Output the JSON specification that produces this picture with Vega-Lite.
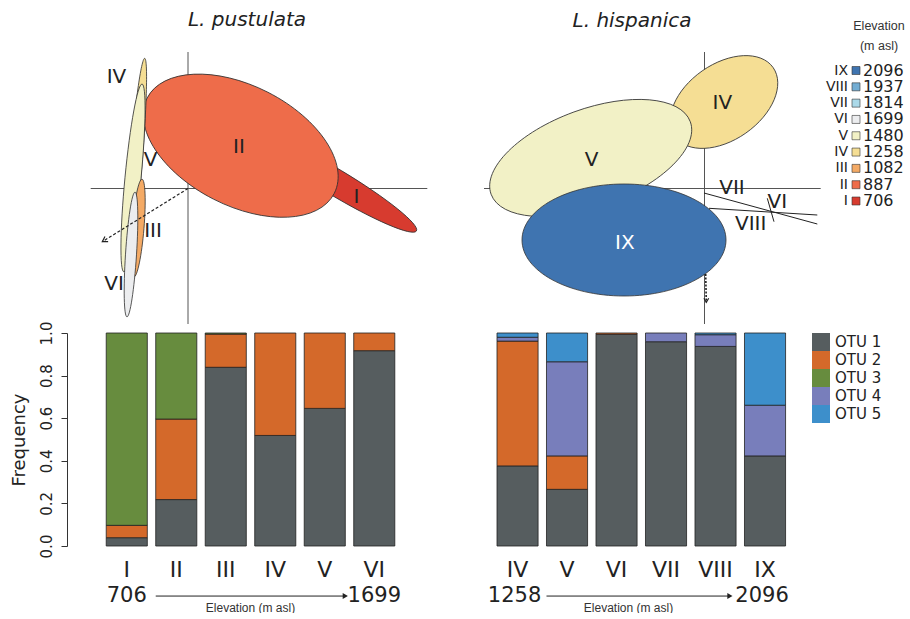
{
  "$schema": "https://vega.github.io/schema/vega-lite/v6.json",
  "background": "white",
  "padding": {"left": 9, "top": 10, "right": 0, "bottom": 0},
  "autosize": {"type": "pad"},
  "config": {"view": {"stroke": null}, "font": "DejaVu Sans"},
  "datasets": {
    "ellL": [
      {"id": "L-I", "site": "I", "x": 1.47, "y": 0.065, "semi": 0.95, "angle": 31},
      {"id": "L-II", "site": "II", "x": 0.527, "y": 0.428, "semi": 1.05, "angle": 27},
      {"id": "L-IV", "site": "IV", "x": -0.52, "y": 0.245, "semi": 1.06, "angle": 94.7},
      {"id": "L-V", "site": "V", "x": -0.55, "y": 0.105, "semi": 0.944, "angle": 95.5},
      {"id": "L-III", "site": "III", "x": -0.5, "y": -0.395, "semi": 0.49, "angle": 94.7},
      {"id": "L-VI", "site": "VI", "x": -0.57, "y": -0.66, "semi": 0.625, "angle": 93.7}
    ],
    "ellR": [
      {"id": "R-IV", "site": "IV", "x": 0.195, "y": 0.865, "semi": 0.6, "angle": 325},
      {"id": "R-V", "site": "V", "x": -1.138, "y": 0.305, "semi": 1.06, "angle": 340},
      {"id": "R-IX", "site": "IX", "x": -0.805, "y": -0.515, "semi": 1.02, "angle": 0}
    ],
    "crossL": [{"x": 0, "x2": 0, "y": 1.365, "y2": -1.355}, {"x": -0.973, "x2": 2.393, "y": 0, "y2": 0}],
    "crossR": [{"x": 0, "x2": 0, "y": 1.365, "y2": -1.355}, {"x": -2.205, "x2": 1.162, "y": 0, "y2": 0}],
    "arrowsL": [{"x": 0, "y": 0, "x2": -0.857, "y2": -0.532}],
    "arrowsR": [{"x": 0.012, "y": -0.855, "x2": 0.018, "y2": -1.138}],
    "linesR": [
      {"site": "VII", "x": -0.005, "y": -0.045, "x2": 1.128, "y2": -0.355},
      {"site": "VIII", "x": 0.045, "y": -0.198, "x2": 1.128, "y2": -0.265},
      {"site": "VI", "x": 0.628, "y": -0.098, "x2": 0.695, "y2": -0.332}
    ],
    "labelsL": [
      {"label": "IV", "x": -0.715, "y": 1.12},
      {"label": "V", "x": -0.373, "y": 0.29},
      {"label": "III", "x": -0.35, "y": -0.42},
      {"label": "VI", "x": -0.74, "y": -0.955},
      {"label": "II", "x": 0.51, "y": 0.412},
      {"label": "I", "x": 1.685, "y": -0.08}
    ],
    "labelsR": [
      {"label": "IV", "x": 0.178, "y": 0.853},
      {"label": "V", "x": -1.13, "y": 0.29},
      {"label": "IX", "x": -0.797, "y": -0.547},
      {"label": "VII", "x": 0.275, "y": 0.002},
      {"label": "VI", "x": 0.728, "y": -0.13},
      {"label": "VIII", "x": 0.462, "y": -0.355}
    ],
    "elev": [
      {"site": "IX", "elev": 2096}, {"site": "VIII", "elev": 1937}, {"site": "VII", "elev": 1814},
      {"site": "VI", "elev": 1699}, {"site": "V", "elev": 1480}, {"site": "IV", "elev": 1258},
      {"site": "III", "elev": 1082}, {"site": "II", "elev": 887}, {"site": "I", "elev": 706}
    ],
    "barsL": [
      {"site": "I", "otu": "OTU 1", "freq": 0.039}, {"site": "I", "otu": "OTU 2", "freq": 0.058}, {"site": "I", "otu": "OTU 3", "freq": 0.903},
      {"site": "II", "otu": "OTU 1", "freq": 0.218}, {"site": "II", "otu": "OTU 2", "freq": 0.378}, {"site": "II", "otu": "OTU 3", "freq": 0.404},
      {"site": "III", "otu": "OTU 1", "freq": 0.839}, {"site": "III", "otu": "OTU 2", "freq": 0.156}, {"site": "III", "otu": "OTU 3", "freq": 0.005},
      {"site": "IV", "otu": "OTU 1", "freq": 0.519}, {"site": "IV", "otu": "OTU 2", "freq": 0.481},
      {"site": "V", "otu": "OTU 1", "freq": 0.646}, {"site": "V", "otu": "OTU 2", "freq": 0.354},
      {"site": "VI", "otu": "OTU 1", "freq": 0.917}, {"site": "VI", "otu": "OTU 2", "freq": 0.083}
    ],
    "barsR": [
      {"site": "IV", "otu": "OTU 1", "freq": 0.376}, {"site": "IV", "otu": "OTU 2", "freq": 0.586}, {"site": "IV", "otu": "OTU 4", "freq": 0.018}, {"site": "IV", "otu": "OTU 5", "freq": 0.02},
      {"site": "V", "otu": "OTU 1", "freq": 0.266}, {"site": "V", "otu": "OTU 2", "freq": 0.157}, {"site": "V", "otu": "OTU 4", "freq": 0.442}, {"site": "V", "otu": "OTU 5", "freq": 0.135},
      {"site": "VI", "otu": "OTU 1", "freq": 0.994}, {"site": "VI", "otu": "OTU 2", "freq": 0.006},
      {"site": "VII", "otu": "OTU 1", "freq": 0.959}, {"site": "VII", "otu": "OTU 4", "freq": 0.041},
      {"site": "VIII", "otu": "OTU 1", "freq": 0.937}, {"site": "VIII", "otu": "OTU 4", "freq": 0.055}, {"site": "VIII", "otu": "OTU 5", "freq": 0.008},
      {"site": "IX", "otu": "OTU 1", "freq": 0.423}, {"site": "IX", "otu": "OTU 4", "freq": 0.238}, {"site": "IX", "otu": "OTU 5", "freq": 0.339}
    ],
    "endsL": [{"site": "I", "label": "706"}, {"site": "VI", "label": "1699"}],
    "endsR": [{"site": "IV", "label": "1258"}, {"site": "IX", "label": "2096"}],
    "arrowBL": [{"from": "II", "to": "V"}],
    "arrowBR": [{"from": "V", "to": "VIII"}]
  },
  "columns": 2,
  "spacing": {"row": -4, "column": 50},
  "concat": [
    {
      "width": 345, "height": 275,
      "title": {"text": "L. pustulata", "frame": "group", "fontStyle": "italic", "fontSize": 20, "fontWeight": "normal", "font": "DejaVu Sans", "color": "#222", "offset": 19, "dx": -9.5},
      "layer": [
        {
          "data": {"name": "crossL"},
          "mark": {"type": "rule", "color": "#555", "strokeWidth": 1},
          "encoding": {
            "x": {"field": "x", "type": "quantitative", "scale": {"domain": [-1.04, 2.41], "nice": false, "zero": false}, "axis": null},
            "x2": {"field": "x2"},
            "y": {"field": "y", "type": "quantitative", "scale": {"domain": [-1.355, 1.395], "nice": false, "zero": false}, "axis": null},
            "y2": {"field": "y2"}
          }
        },
        {
          "data": {"name": "ellL"},
          "mark": {"type": "point", "filled": true, "opacity": 1, "stroke": "#333", "strokeWidth": 0.8},
          "encoding": {
            "x": {"field": "x", "type": "quantitative", "scale": {"domain": [-1.04, 2.41], "nice": false, "zero": false}, "axis": null},
            "y": {"field": "y", "type": "quantitative", "scale": {"domain": [-1.355, 1.395], "nice": false, "zero": false}, "axis": null},
            "fill": {"field": "site", "type": "nominal", "legend": null, "scale": {"domain": ["I", "II", "III", "IV", "V", "VI", "VII", "VIII", "IX"], "range": ["#D73B2F", "#EE6C4A", "#F4AA65", "#F5DE94", "#F2F1C6", "#ECEDEF", "#ABD9E9", "#73ADD3", "#3F74B0"]}},
            "shape": {"field": "id", "type": "nominal", "legend": null, "scale": {
              "domain": ["L-I", "L-II", "L-III", "L-IV", "L-V", "L-VI", "R-IV", "R-V", "R-IX"],
              "range": [
                "M1,0C1,0.0757 0.5523,0.137 0,0.137C-0.5523,0.137 -1,0.0757 -1,0C-1,-0.0757 -0.5523,-0.137 0,-0.137C0.5523,-0.137 1,-0.0757 1,0Z",
                "M1,0C1,0.3154 0.5523,0.571 0,0.571C-0.5523,0.571 -1,0.3154 -1,0C-1,-0.3154 -0.5523,-0.571 0,-0.571C0.5523,-0.571 1,-0.3154 1,0Z",
                "M1,0C1,0.0674 0.5523,0.122 0,0.122C-0.5523,0.122 -1,0.0674 -1,0C-1,-0.0674 -0.5523,-0.122 0,-0.122C0.5523,-0.122 1,-0.0674 1,0Z",
                "M1,0C1,0.0315 0.5523,0.057 0,0.057C-0.5523,0.057 -1,0.0315 -1,0C-1,-0.0315 -0.5523,-0.057 0,-0.057C0.5523,-0.057 1,-0.0315 1,0Z",
                "M1,0C1,0.0469 0.5523,0.085 0,0.085C-0.5523,0.085 -1,0.0469 -1,0C-1,-0.0469 -0.5523,-0.085 0,-0.085C0.5523,-0.085 1,-0.0469 1,0Z",
                "M1,0C1,0.0486 0.5523,0.088 0,0.088C-0.5523,0.088 -1,0.0486 -1,0C-1,-0.0486 -0.5523,-0.088 0,-0.088C0.5523,-0.088 1,-0.0486 1,0Z",
                "M1,0C1,0.3496 0.5523,0.633 0,0.633C-0.5523,0.633 -1,0.3496 -1,0C-1,-0.3496 -0.5523,-0.633 0,-0.633C0.5523,-0.633 1,-0.3496 1,0Z",
                "M1,0C1,0.2552 0.5523,0.462 0,0.462C-0.5523,0.462 -1,0.2552 -1,0C-1,-0.2552 -0.5523,-0.462 0,-0.462C0.5523,-0.462 1,-0.2552 1,0Z",
                "M1,0C1,0.3032 0.5523,0.549 0,0.549C-0.5523,0.549 -1,0.3032 -1,0C-1,-0.3032 -0.5523,-0.549 0,-0.549C0.5523,-0.549 1,-0.3032 1,0Z"
              ]}},
            "size": {"field": "semi", "type": "quantitative", "legend": null, "scale": {"type": "pow", "exponent": 2, "domain": [0, 1.2], "range": [0, 57600]}},
            "angle": {"field": "angle", "type": "quantitative", "scale": {"domain": [0, 360], "range": [0, 360]}}
          }
        },
        {
          "data": {"name": "arrowsL"},
          "mark": {"type": "rule", "color": "#222", "strokeWidth": 1.2, "strokeDash": [3, 2]},
          "encoding": {
            "x": {"field": "x", "type": "quantitative", "scale": {"domain": [-1.04, 2.41], "nice": false, "zero": false}, "axis": null},
            "x2": {"field": "x2"},
            "y": {"field": "y", "type": "quantitative", "scale": {"domain": [-1.355, 1.395], "nice": false, "zero": false}, "axis": null},
            "y2": {"field": "y2"}
          }
        },
        {
          "data": {"name": "arrowsL"},
          "mark": {"type": "point", "shape": "M-1,-0.6L0,0L-1,0.6", "filled": false, "opacity": 1, "stroke": "#222", "strokeWidth": 1.2, "size": 100, "angle": 148.2},
          "encoding": {
            "x": {"field": "x2", "type": "quantitative", "scale": {"domain": [-1.04, 2.41], "nice": false, "zero": false}, "axis": null},
            "y": {"field": "y2", "type": "quantitative", "scale": {"domain": [-1.355, 1.395], "nice": false, "zero": false}, "axis": null}
          }
        },
        {
          "data": {"name": "labelsL"},
          "mark": {"type": "text", "fontSize": 20, "font": "DejaVu Sans", "baseline": "middle", "align": "center"},
          "encoding": {
            "x": {"field": "x", "type": "quantitative", "scale": {"domain": [-1.04, 2.41], "nice": false, "zero": false}, "axis": null},
            "y": {"field": "y", "type": "quantitative", "scale": {"domain": [-1.355, 1.395], "nice": false, "zero": false}, "axis": null},
            "text": {"field": "label"},
            "color": {"value": "#222"}
          }
        }
      ]
    },
    {
      "width": 430, "height": 275,
      "title": {"text": "L. hispanica", "frame": "group", "fontStyle": "italic", "fontSize": 20, "fontWeight": "normal", "font": "DejaVu Sans", "color": "#222", "offset": 19, "dx": -62, "dy": 30},
      "resolve": {"scale": {"y": "independent"}},
      "layer": [
        {
          "data": {"name": "crossR"},
          "mark": {"type": "rule", "color": "#555", "strokeWidth": 1},
          "encoding": {
            "x": {"field": "x", "type": "quantitative", "scale": {"domain": [-2.255, 2.045], "nice": false, "zero": false}, "axis": null},
            "x2": {"field": "x2"},
            "y": {"field": "y", "type": "quantitative", "scale": {"domain": [-1.355, 1.395], "nice": false, "zero": false}, "axis": null},
            "y2": {"field": "y2"}
          }
        },
        {
          "data": {"name": "ellR"},
          "mark": {"type": "point", "filled": true, "opacity": 1, "stroke": "#333", "strokeWidth": 0.8},
          "encoding": {
            "x": {"field": "x", "type": "quantitative", "scale": {"domain": [-2.255, 2.045], "nice": false, "zero": false}, "axis": null},
            "y": {"field": "y", "type": "quantitative", "scale": {"domain": [-1.355, 1.395], "nice": false, "zero": false}, "axis": null},
            "fill": {"field": "site", "type": "nominal", "legend": null},
            "shape": {"field": "id", "type": "nominal", "legend": null},
            "size": {"field": "semi", "type": "quantitative", "legend": null},
            "angle": {"field": "angle", "type": "quantitative"}
          }
        },
        {
          "data": {"name": "linesR"},
          "mark": {"type": "rule", "color": "#222", "strokeWidth": 1},
          "encoding": {
            "x": {"field": "x", "type": "quantitative", "scale": {"domain": [-2.255, 2.045], "nice": false, "zero": false}, "axis": null},
            "x2": {"field": "x2"},
            "y": {"field": "y", "type": "quantitative", "scale": {"domain": [-1.355, 1.395], "nice": false, "zero": false}, "axis": null},
            "y2": {"field": "y2"}
          }
        },
        {
          "data": {"name": "arrowsR"},
          "mark": {"type": "rule", "color": "#222", "strokeWidth": 1.6, "strokeDash": [2, 1.5]},
          "encoding": {
            "x": {"field": "x", "type": "quantitative", "scale": {"domain": [-2.255, 2.045], "nice": false, "zero": false}, "axis": null},
            "x2": {"field": "x2"},
            "y": {"field": "y", "type": "quantitative", "scale": {"domain": [-1.355, 1.395], "nice": false, "zero": false}, "axis": null},
            "y2": {"field": "y2"}
          }
        },
        {
          "data": {"name": "arrowsR"},
          "mark": {"type": "point", "shape": "M-1,-0.6L0,0L-1,0.6", "filled": false, "opacity": 1, "stroke": "#222", "strokeWidth": 1.2, "size": 64, "angle": 90},
          "encoding": {
            "x": {"field": "x2", "type": "quantitative", "scale": {"domain": [-2.255, 2.045], "nice": false, "zero": false}, "axis": null},
            "y": {"field": "y2", "type": "quantitative", "scale": {"domain": [-1.355, 1.395], "nice": false, "zero": false}, "axis": null}
          }
        },
        {
          "data": {"name": "labelsR"},
          "mark": {"type": "text", "fontSize": 20, "font": "DejaVu Sans", "baseline": "middle", "align": "center"},
          "encoding": {
            "x": {"field": "x", "type": "quantitative", "scale": {"domain": [-2.255, 2.045], "nice": false, "zero": false}, "axis": null},
            "y": {"field": "y", "type": "quantitative", "scale": {"domain": [-1.355, 1.395], "nice": false, "zero": false}, "axis": null},
            "text": {"field": "label"},
            "color": {"condition": {"test": "datum.label === 'IX'", "value": "white"}, "value": "#222"}
          }
        },
        {
          "data": {"name": "elev"},
          "mark": {"type": "text", "fontSize": 14, "align": "right", "baseline": "middle", "color": "#222"},
          "encoding": {
            "x": {"datum": 1.435, "type": "quantitative", "scale": {"domain": [-2.255, 2.045], "nice": false, "zero": false}, "axis": null},
            "y": {"field": "site", "type": "nominal", "sort": null, "scale": {"domain": ["IX", "VIII", "VII", "VI", "V", "IV", "III", "II", "I"], "range": [21.5, 152], "padding": 0}, "axis": null},
            "text": {"field": "site"}
          }
        },
        {
          "data": {"name": "elev"},
          "mark": {"type": "point", "shape": "square", "filled": true, "opacity": 1, "size": 64, "stroke": "#333", "strokeWidth": 0.6},
          "encoding": {
            "x": {"datum": 1.515, "type": "quantitative", "scale": {"domain": [-2.255, 2.045], "nice": false, "zero": false}, "axis": null},
            "y": {"field": "site", "type": "nominal", "sort": null, "scale": {"domain": ["IX", "VIII", "VII", "VI", "V", "IV", "III", "II", "I"], "range": [21.5, 152], "padding": 0}, "axis": null},
            "fill": {"field": "site", "type": "nominal", "legend": null}
          }
        },
        {
          "data": {"name": "elev"},
          "mark": {"type": "text", "fontSize": 16, "align": "left", "baseline": "middle", "color": "#222"},
          "encoding": {
            "x": {"datum": 1.585, "type": "quantitative", "scale": {"domain": [-2.255, 2.045], "nice": false, "zero": false}, "axis": null},
            "y": {"field": "site", "type": "nominal", "sort": null, "scale": {"domain": ["IX", "VIII", "VII", "VI", "V", "IV", "III", "II", "I"], "range": [21.5, 152], "padding": 0}, "axis": null},
            "text": {"field": "elev"}
          }
        },
        {
          "data": {"values": [{"t": "Elevation"}]},
          "mark": {"type": "text", "fontSize": 12.5, "font": "Liberation Sans", "align": "center", "baseline": "middle", "color": "#333", "lineHeight": 20, "dy": -45},
          "encoding": {
            "x": {"datum": 1.745, "type": "quantitative", "scale": {"domain": [-2.255, 2.045], "nice": false, "zero": false}, "axis": null},
            "y": {"datum": "IX", "type": "nominal", "scale": {"domain": ["IX", "VIII", "VII", "VI", "V", "IV", "III", "II", "I"], "range": [21.5, 152], "padding": 0}, "axis": null},
            "text": {"value": ["Elevation", "(m asl)"]}
          }
        }
      ]
    },
    {
      "width": 345, "height": 213,
      "layer": [
        {
          "data": {"name": "barsL"},
          "mark": {"type": "bar", "stroke": "#222", "strokeWidth": 0.8},
          "encoding": {
            "x": {"field": "site", "type": "nominal", "sort": null, "scale": {"domain": ["I", "II", "III", "IV", "V", "VI"], "paddingInner": 0.17, "paddingOuter": 0.57, "align": 0.394},
              "axis": {"labelAngle": 0, "labelFontSize": 22, "labelFont": "DejaVu Sans", "labelColor": "#222", "labelPadding": 13, "ticks": false, "domain": false, "title": "Elevation (m asl)", "titleFontSize": 12, "titleFont": "Liberation Sans", "titleFontWeight": "normal", "titleColor": "#333", "titlePadding": 22, "titleX": 166}},
            "y": {"field": "freq", "type": "quantitative", "stack": "zero", "scale": {"domain": [0, 1], "nice": false},
              "axis": {"values": [0, 0.2, 0.4, 0.6, 0.8, 1], "format": ".1f", "labelAngle": -90, "labelFontSize": 15, "labelFont": "DejaVu Sans", "labelColor": "#222", "labelPadding": 7, "tickSize": 6, "tickColor": "#333", "domainColor": "#333", "offset": 17, "grid": false, "title": "Frequency", "titleFontSize": 18, "titleFontWeight": "normal", "titleFont": "DejaVu Sans", "titleColor": "#222", "titlePadding": 11}},
            "order": {"field": "otu", "type": "ordinal", "sort": "ascending"},
            "color": {"field": "otu", "type": "nominal",
              "scale": {"domain": ["OTU 1", "OTU 2", "OTU 3", "OTU 4", "OTU 5"], "range": ["#565D5F", "#D4692A", "#678C3E", "#787EBB", "#3D8FCB"]},
              "legend": {"orient": "none", "legendX": 728, "legendY": 284, "title": null, "symbolType": "square", "symbolSize": 324, "symbolStrokeWidth": 0, "symbolOpacity": 1, "labelFontSize": 15, "labelFont": "DejaVu Sans", "labelColor": "#222", "labelOffset": 5, "rowPadding": 0, "padding": 0}}
          }
        },
        {
          "data": {"name": "endsL"},
          "mark": {"type": "text", "fontSize": 21, "baseline": "middle", "align": "center", "color": "#222"},
          "encoding": {
            "x": {"field": "site", "type": "nominal", "sort": null, "scale": {"domain": ["I", "II", "III", "IV", "V", "VI"], "paddingInner": 0.17, "paddingOuter": 0.57, "align": 0.394}},
            "y": {"datum": -0.235, "type": "quantitative", "scale": {"domain": [0, 1], "nice": false}},
            "text": {"field": "label"}
          }
        },
        {
          "data": {"name": "arrowBL"},
          "mark": {"type": "rule", "color": "#222", "strokeWidth": 1},
          "encoding": {
            "x": {"field": "from", "type": "nominal", "bandPosition": 0, "scale": {"domain": ["I", "II", "III", "IV", "V", "VI"], "paddingInner": 0.17, "paddingOuter": 0.57, "align": 0.394}},
            "x2": {"field": "to", "bandPosition": 1},
            "y": {"datum": -0.235, "type": "quantitative", "scale": {"domain": [0, 1], "nice": false}}
          }
        },
        {
          "data": {"name": "arrowBL"},
          "mark": {"type": "point", "shape": "triangle-right", "filled": true, "opacity": 1, "size": 36, "color": "#222"},
          "encoding": {
            "x": {"field": "to", "type": "nominal", "bandPosition": 1, "scale": {"domain": ["I", "II", "III", "IV", "V", "VI"], "paddingInner": 0.17, "paddingOuter": 0.57, "align": 0.394}},
            "y": {"datum": -0.235, "type": "quantitative", "scale": {"domain": [0, 1], "nice": false}}
          }
        }
      ]
    },
    {
      "width": 345, "height": 213,
      "layer": [
        {
          "data": {"name": "barsR"},
          "mark": {"type": "bar", "stroke": "#222", "strokeWidth": 0.8},
          "encoding": {
            "x": {"field": "site", "type": "nominal", "sort": null, "scale": {"domain": ["IV", "V", "VI", "VII", "VIII", "IX"], "paddingInner": 0.17, "paddingOuter": 0.57, "align": 0.319},
              "axis": {"labelAngle": 0, "labelFontSize": 22, "labelFont": "DejaVu Sans", "labelColor": "#222", "labelPadding": 13, "ticks": false, "domain": false, "title": "Elevation (m asl)", "titleFontSize": 12, "titleFont": "Liberation Sans", "titleFontWeight": "normal", "titleColor": "#333", "titlePadding": 22, "titleX": 149}},
            "y": {"field": "freq", "type": "quantitative", "stack": "zero", "scale": {"domain": [0, 1], "nice": false}, "axis": null},
            "order": {"field": "otu", "type": "ordinal", "sort": "ascending"},
            "color": {"field": "otu", "type": "nominal",
              "scale": {"domain": ["OTU 1", "OTU 2", "OTU 3", "OTU 4", "OTU 5"], "range": ["#565D5F", "#D4692A", "#678C3E", "#787EBB", "#3D8FCB"]},
              "legend": {"orient": "none", "legendX": 728, "legendY": 284, "title": null, "symbolType": "square", "symbolSize": 324, "symbolStrokeWidth": 0, "symbolOpacity": 1, "labelFontSize": 15, "labelFont": "DejaVu Sans", "labelColor": "#222", "labelOffset": 5, "rowPadding": 0, "padding": 0}}
          }
        },
        {
          "data": {"name": "endsR"},
          "mark": {"type": "text", "fontSize": 21, "baseline": "middle", "align": "center", "color": "#222", "dx": -3},
          "encoding": {
            "x": {"field": "site", "type": "nominal", "sort": null, "scale": {"domain": ["IV", "V", "VI", "VII", "VIII", "IX"], "paddingInner": 0.17, "paddingOuter": 0.57, "align": 0.319}},
            "y": {"datum": -0.235, "type": "quantitative", "scale": {"domain": [0, 1], "nice": false}, "axis": null},
            "text": {"field": "label"}
          }
        },
        {
          "data": {"name": "arrowBR"},
          "mark": {"type": "rule", "color": "#222", "strokeWidth": 1},
          "encoding": {
            "x": {"field": "from", "type": "nominal", "bandPosition": 0, "scale": {"domain": ["IV", "V", "VI", "VII", "VIII", "IX"], "paddingInner": 0.17, "paddingOuter": 0.57, "align": 0.319}},
            "x2": {"field": "to", "bandPosition": 0.85},
            "y": {"datum": -0.235, "type": "quantitative", "scale": {"domain": [0, 1], "nice": false}, "axis": null}
          }
        },
        {
          "data": {"name": "arrowBR"},
          "mark": {"type": "point", "shape": "triangle-right", "filled": true, "opacity": 1, "size": 36, "color": "#222"},
          "encoding": {
            "x": {"field": "to", "type": "nominal", "bandPosition": 0.85, "scale": {"domain": ["IV", "V", "VI", "VII", "VIII", "IX"], "paddingInner": 0.17, "paddingOuter": 0.57, "align": 0.319}},
            "y": {"datum": -0.235, "type": "quantitative", "scale": {"domain": [0, 1], "nice": false}, "axis": null}
          }
        }
      ]
    }
  ]
}
